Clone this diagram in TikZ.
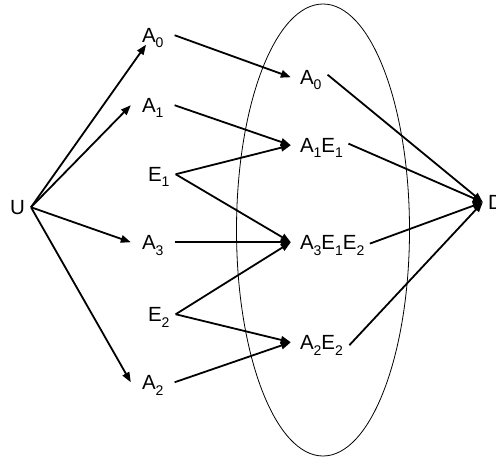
\documentclass[tikz,border=0pt]{standalone}
\usepackage{fontspec}
\setmainfont{Liberation Sans}
\usetikzlibrary{arrows.meta}
\newcommand{\sbx}[1]{\raisebox{-5.5bp}{\fontsize{14bp}{15bp}\selectfont #1}}
\begin{document}
\begin{tikzpicture}[x=1bp,y=-1bp,
  lbl/.style={font=\fontsize{20.5bp}{24bp}\selectfont, text height=14.5bp, text depth=0pt, inner ysep=2bp, anchor=text},
  anode/.style={lbl, inner xsep=11bp},
  enode/.style={lbl, inner xsep=6bp},
  rnode/.style={lbl, inner xsep=9bp},
  dnode/.style={lbl, inner xsep=5bp},
  arr/.style={line width=1.8bp, -{Triangle[length=10bp,width=7.5bp]}},
  tod/.style={arr, shorten <=-4bp},
  oval/.style={line width=0.8bp}]
\useasboundingbox (0,0) rectangle (496,459);
\draw[oval] (323,230) ellipse [x radius=86.5bp, y radius=226bp];
% left column
\node[enode] (U) at (10,214.5) {U};
\node[anode] (A0l) at (142,42.5) {A\sbx{0}};
\node[anode] (A1) at (142,112.5) {A\sbx{1}};
\node[enode] (E1) at (148,181.5) {E\sbx{1}};
\node[anode] (A3) at (142,249.5) {A\sbx{3}};
\node[enode] (E2) at (148,321.5) {E\sbx{2}};
\node[anode] (A2) at (142,389.5) {A\sbx{2}};
% right column
\node[rnode] (A0r) at (300,84.5) {A\sbx{0}};
\node[rnode] (A1E1) at (300,152.5) {A\sbx{1}E\sbx{1}};
\node[rnode] (A3E1E2) at (300,249.5) {A\sbx{3}E\sbx{1}E\sbx{2}};
\node[rnode] (A2E2) at (300,349.5) {A\sbx{2}E\sbx{2}};
\node[dnode] (D) at (488,209.5) {D};
% U to left column
\draw[arr] (U.east) -- (A0l);
\draw[arr] (U.east) -- (A1.west);
\draw[arr] (U.east) -- (A3.west);
\draw[arr] (U.east) -- (A2.west);
% left to right
\draw[arr] (A0l.east) -- (A0r.west);
\draw[arr] (A1.east) -- (A1E1.west);
\draw[arr] (E1.east) -- (A1E1.west);
\draw[arr] (E1.east) -- (A3E1E2.west);
\draw[arr] (A3.east) -- (A3E1E2.west);
\draw[arr] (E2.east) -- (A3E1E2.west);
\draw[arr] (E2.east) -- (A2E2.west);
\draw[arr] (A2.east) -- (A2E2.west);
% right to D
\draw[tod] (A0r.east) -- (D.west);
\draw[tod] (A1E1.east) -- (D.west);
\draw[tod] (A3E1E2.east) -- (D.west);
\draw[tod] (A2E2.east) -- (D.west);
\end{tikzpicture}
\end{document}
